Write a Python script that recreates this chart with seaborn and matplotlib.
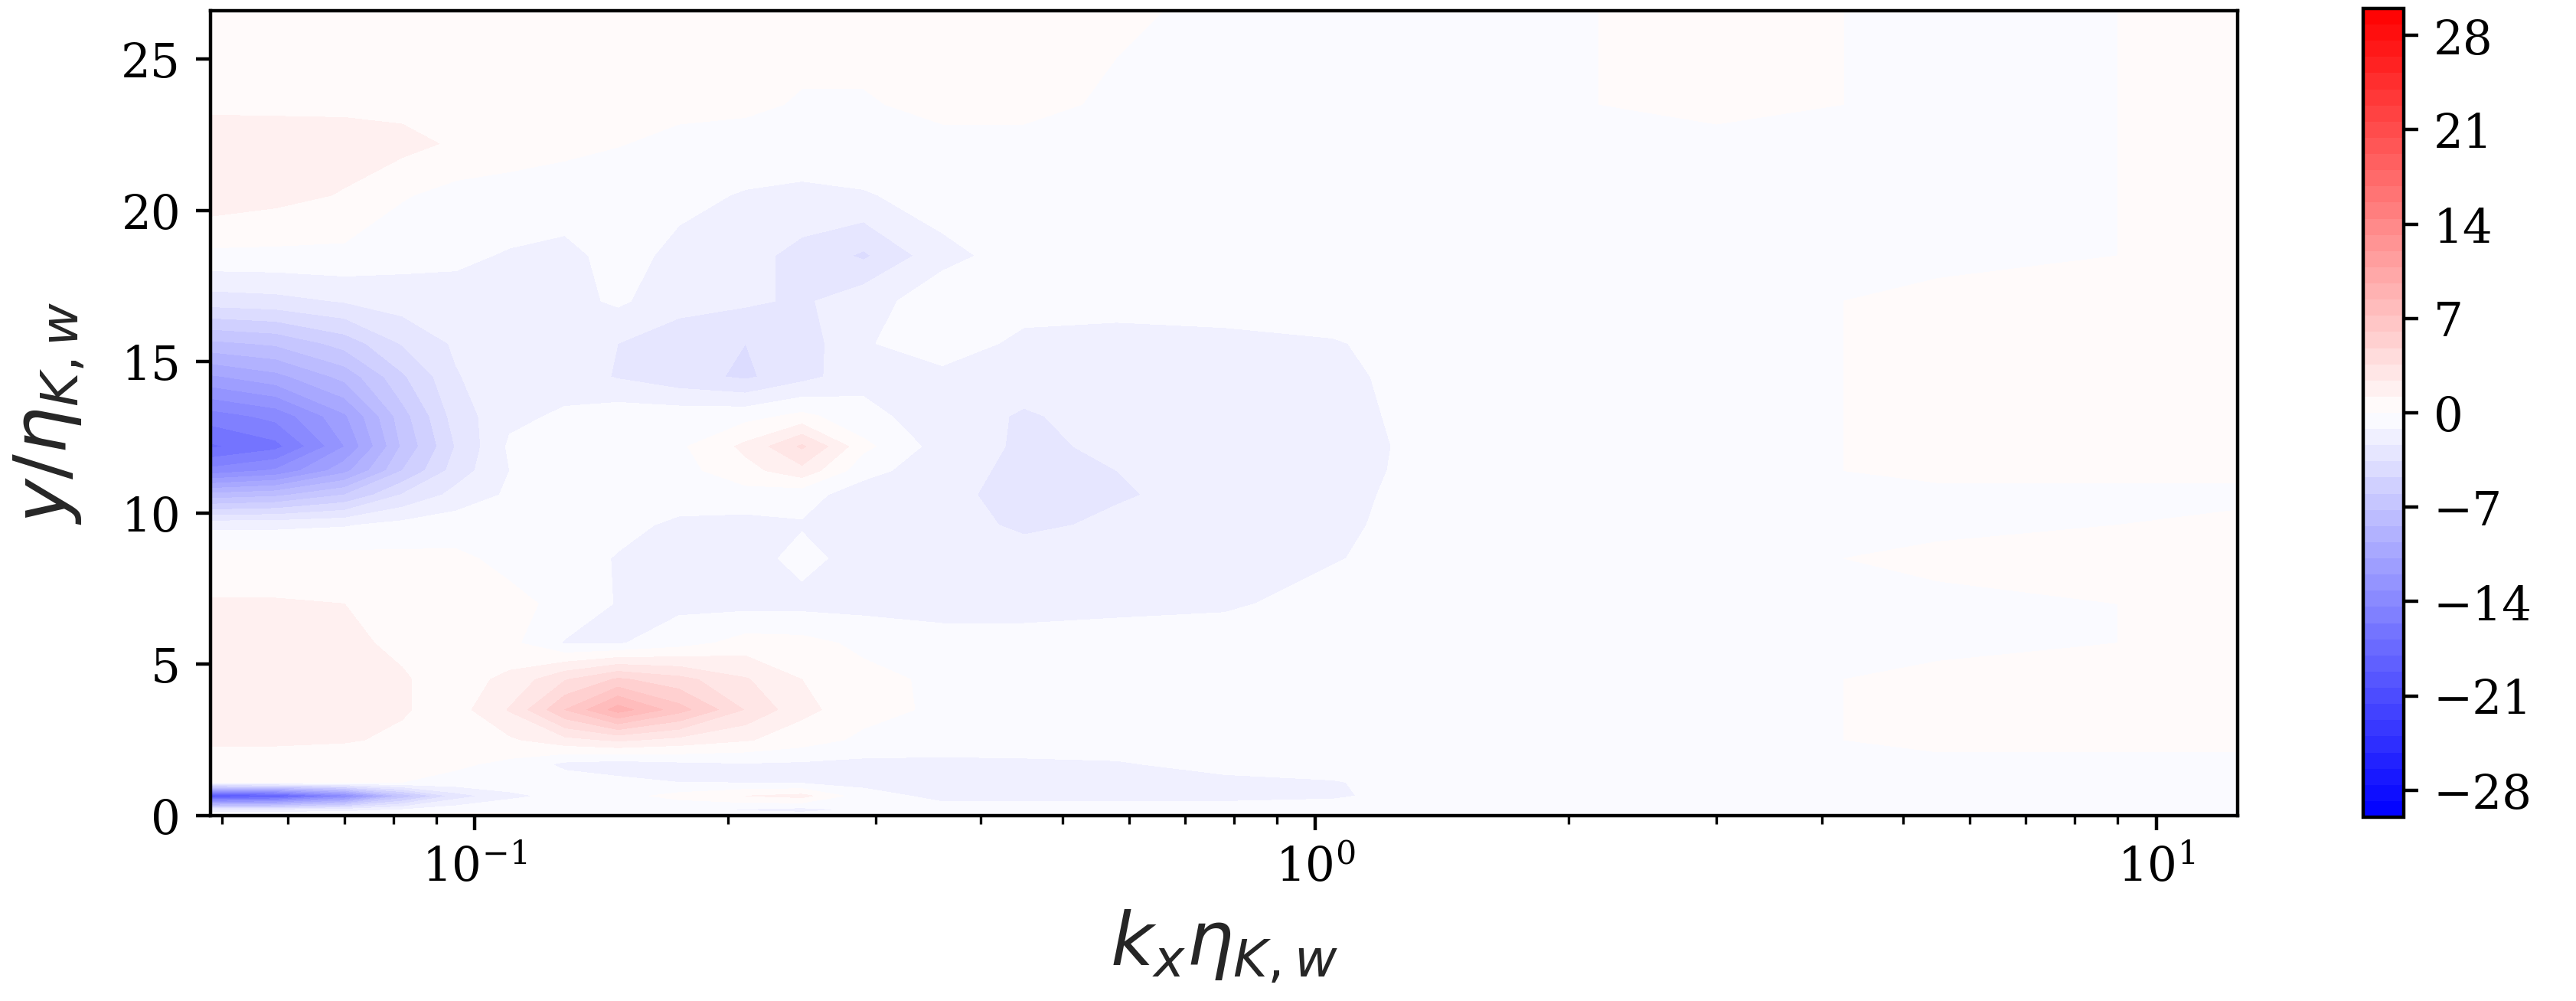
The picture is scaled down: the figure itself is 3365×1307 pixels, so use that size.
import numpy as np
import matplotlib
matplotlib.use("Agg")
import matplotlib.pyplot as plt
import seaborn as sns


# grid nodes (x: k_x eta, y: y/eta)
kx_eta = [0.0485, 0.058, 0.07, 0.082, 0.095, 0.11, 0.128, 0.148, 0.175, 0.21,
          0.245, 0.29, 0.36, 0.45, 0.58, 0.78, 1.05, 1.35, 3.0, 5.5, 12.5]
y_eta = [0, 0.2, 0.65, 1.1, 1.7, 2.5, 3.5, 4.5, 5.7, 7.0, 8.5, 9.6, 10.6,
         11.4, 12.2, 13.2, 14.5, 15.6, 17.0, 18.5, 20.5, 22.2, 23.5, 26.6]

# estimated field values, one row per y node
spec = np.array([
    [0.6, 0.6, 0.5, 0.4, 0.3, 0.2, -0.3, -0.5, -0.6, -0.8, -0.6, -0.6, -0.5, -0.5, -0.5, -0.5, -0.4, -0.3, -0.3, -0.3, -0.3],
    [-2.5, -2.5, -2, -1.2, -0.5, -0.3, -0.6, -0.8, -1.0, -1.3, -1.6, -1.0, -0.8, -0.6, -0.6, -0.6, -0.5, -0.3, -0.3, -0.3, -0.3],
    [-20, -19, -14, -7, -3, -1.5, -0.8, -0.4, 0.4, 1.2, 1.6, -0.8, -1.5, -1.6, -1.6, -1.6, -1.4, -0.5, -0.3, -0.3, -0.3],
    [0.3, 0.3, 0.2, 0.0, -0.4, -0.5, -0.6, -0.9, -1.2, -1.3, -1.4, -1.5, -1.5, -1.6, -1.6, -1.5, -1.3, -0.5, -0.3, -0.3, -0.3],
    [0.6, 0.6, 0.5, 0.4, 0.2, -0.3, -1.5, -1.8, -1.5, -1.3, -1.4, -1.5, -1.5, -1.4, -1.3, -0.8, -0.5, -0.4, -0.3, -0.3, -0.3],
    [1.4, 1.4, 1.3, 1.0, 0.6, 1.0, 2.0, 2.6, 2.0, 1.3, 0.6, -0.3, -0.5, -0.6, -0.6, -0.5, -0.4, -0.3, -0.3, 0.3, 0.3],
    [1.7, 1.7, 1.6, 1.3, 0.7, 2.5, 6.0, 9.0, 6.5, 3.5, 1.5, 0.5, -0.3, -0.5, -0.5, -0.5, -0.4, -0.3, -0.3, 0.3, 0.4],
    [1.7, 1.7, 1.6, 1.3, 0.7, 1.5, 3.5, 5.0, 4.0, 2.5, 1.2, 0.4, -0.3, -0.5, -0.5, -0.5, -0.4, -0.3, -0.3, 0.3, 0.4],
    [1.5, 1.5, 1.4, 1.0, 0.6, 0.3, -1.3, -1.3, -0.5, 0.5, 0.4, -0.3, -0.6, -0.6, -0.5, -0.5, -0.4, -0.3, -0.3, -0.3, 0.3],
    [1.3, 1.3, 1.2, 0.8, 0.5, 0.3, -0.3, -1.3, -1.5, -1.6, -1.6, -1.6, -1.8, -1.8, -1.6, -1.4, -0.6, -0.4, -0.3, -0.3, 0.3],
    [0.5, 0.5, 0.4, 0.3, 0.2, -0.3, -0.6, -1.3, -1.6, -1.7, -0.8, -1.8, -1.8, -1.9, -1.8, -1.6, -1.3, -0.5, -0.3, 0.3, 0.3],
    [-1.5, -1.5, -1.3, -0.8, -0.5, -0.4, -0.5, -0.8, -1.5, -1.6, -1.3, -1.7, -2.0, -2.6, -2.2, -1.8, -1.5, -0.6, -0.3, -0.3, 0.3],
    [-8, -7.5, -6, -3.5, -2, -1.0, -0.6, -0.5, -0.5, -0.5, -0.8, -1.8, -2.2, -2.7, -2.5, -2.0, -1.6, -0.7, -0.3, -0.3, -0.3],
    [-14, -13, -10, -6, -3, -1.2, -0.6, -0.4, -0.4, 0.8, 2.0, -0.8, -2.0, -2.7, -2.4, -2.0, -1.7, -0.8, -0.3, 0.3, 0.3],
    [-17, -16, -12, -7, -3.5, -1.0, -0.6, -0.4, -0.2, 1.5, 3.8, 0.3, -1.8, -2.6, -2.2, -2.0, -1.8, -0.8, -0.3, 0.3, 0.3],
    [-15, -14, -11, -6.5, -3, -1.5, -1.0, -0.5, -0.5, -0.4, 0.3, -0.8, -2.0, -2.5, -2.0, -1.8, -1.6, -0.8, -0.3, 0.3, 0.3],
    [-11, -10, -8, -5, -2.5, -1.5, -1.8, -2.5, -3.2, -3.8, -2.8, -1.6, -1.5, -2.0, -1.8, -1.6, -1.5, -0.7, -0.3, 0.3, 0.3],
    [-7.5, -7, -5.5, -3.5, -2.2, -1.6, -1.8, -2.4, -3.0, -3.6, -3.0, -1.3, -0.6, -1.5, -1.6, -1.5, -1.3, -0.6, -0.3, 0.3, 0.4],
    [-3, -2.8, -2.3, -1.8, -1.6, -1.6, -1.6, -1.0, -2.0, -2.2, -2.6, -1.6, -0.6, -0.7, -0.8, -0.7, -0.5, -0.4, -0.3, 0.3, 0.3],
    [-0.3, -0.3, -0.3, -0.8, -1.0, -1.3, -1.5, -0.8, -1.5, -2.0, -2.8, -3.8, -1.5, -0.7, -0.6, -0.6, -0.5, -0.4, -0.3, -0.3, 0.3],
    [2.0, 1.6, 1.1, 0.1, -0.4, -0.5, -0.6, -0.7, -0.9, -1.3, -1.5, -1.3, -0.7, -0.5, -0.4, -0.4, -0.4, -0.3, -0.3, -0.3, 0.3],
    [2.0, 1.9, 1.8, 1.6, 1.0, 0.6, 0.3, 0.05, -0.3, -0.4, -0.4, -0.4, -0.3, -0.3, -0.3, -0.3, -0.3, -0.3, -0.3, -0.3, 0.3],
    [0.9, 0.9, 0.9, 0.8, 0.7, 0.6, 0.5, 0.4, 0.3, 0.2, -0.1, -0.1, 0.3, 0.3, -0.2, -0.3, -0.3, -0.3, 0.3, -0.3, 0.3],
    [0.6, 0.6, 0.6, 0.6, 0.6, 0.5, 0.5, 0.5, 0.5, 0.5, 0.5, 0.5, 0.4, 0.3, 0.2, -0.3, -0.3, -0.3, 0.3, -0.3, 0.3],
])

vmax = 30
cbar_ticks = [-28, -21, -14, -7, 0, 7, 14, 21, 28]
y_ticks = [0, 5, 10, 15, 20, 25]

sns.set_style("ticks")
plt.rcParams["font.family"] = ["DejaVu Serif"]
plt.rcParams["mathtext.fontset"] = "dejavusans"
plt.rcParams["axes.edgecolor"] = "black"
plt.rcParams["axes.linewidth"] = 0.8
plt.rcParams["xtick.color"] = "black"
plt.rcParams["ytick.color"] = "black"

fig = plt.figure(figsize=(3366 / 400, 1307 / 400), dpi=400)
ax = fig.add_axes([0.0817, 0.1852, 0.7867, 0.8042])
cax = fig.add_axes([0.9171, 0.1836, 0.01575, 0.808])

levels = np.linspace(-vmax, vmax, 51)
cs = ax.contourf(kx_eta, y_eta, spec, levels=levels, cmap="bwr")

ax.set_xscale("log")
ax.set_xlim(0.0485, 12.5)
ax.set_ylim(0, 26.6)
ax.set_yticks(y_ticks)
ax.tick_params(axis="both", which="major", labelsize=11)
ax.set_xlabel(r"$k_x\eta_{K,w}$", fontsize=17.5)
ax.set_ylabel(r"$y/\eta_{K,w}$", fontsize=17.5, labelpad=8)

cb = fig.colorbar(cs, cax=cax, ticks=cbar_ticks)
cb.ax.tick_params(labelsize=11)
cb.outline.set_linewidth(0.8)

fig.savefig("out.png", dpi=400)
